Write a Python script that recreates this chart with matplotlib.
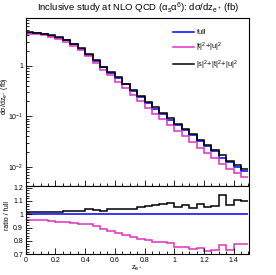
import numpy as np
import matplotlib
matplotlib.use("Agg")
import matplotlib.pyplot as plt
from matplotlib.ticker import MultipleLocator, FuncFormatter, NullFormatter, LogLocator

plt.rcParams['font.family'] = ['Liberation Sans', 'DejaVu Sans']
plt.rcParams['mathtext.fontset'] = 'custom'
plt.rcParams['mathtext.rm'] = 'Liberation Sans'
plt.rcParams['mathtext.it'] = 'Liberation Sans'
plt.rcParams['mathtext.sf'] = 'Liberation Sans'

# bin edges in z_e+
bin_edges = np.round(np.arange(0, 1.5001, 0.05), 3)

# |s|^2+|t|^2+|u|^2 (fb)
sst = [4.58, 4.44, 4.25, 4.00, 3.65, 3.23, 2.73, 2.24, 1.71, 1.28,
       0.957, 0.762, 0.589, 0.442, 0.327, 0.253, 0.195, 0.152, 0.1175, 0.0912,
       0.0708, 0.0562, 0.0437, 0.0344, 0.0274, 0.0215, 0.0170, 0.0132, 0.0107, 0.0089]
# ratios to full
ratio_sst = [1.018, 1.018, 1.018, 1.018, 1.015, 1.022, 1.022, 1.027, 1.037, 1.032,
             1.027, 1.040, 1.042, 1.040, 1.042, 1.052, 1.065, 1.070, 1.077, 1.082,
             1.057, 1.067, 1.047, 1.077, 1.057, 1.062, 1.145, 1.067, 1.107, 1.100]
ratio_tu = [0.960, 0.960, 0.955, 0.950, 0.945, 0.940, 0.935, 0.930, 0.928, 0.915,
            0.890, 0.877, 0.857, 0.842, 0.830, 0.818, 0.808, 0.795, 0.790, 0.783,
            0.757, 0.757, 0.742, 0.748, 0.728, 0.733, 0.773, 0.733, 0.778, 0.778]

sst = np.array(sst)
full = sst / np.array(ratio_sst)
tu = full * np.array(ratio_tu)

series_labels = ["full", r"$\mathregular{|t|^2\!+\!|u|^2}$", r"$\mathregular{|s|^2\!+\!|t|^2\!+\!|u|^2}$"]
colors = ["#0000ff", "#e030c0", "#000000"]

W, H = 276, 275
fig = plt.figure(figsize=(W / 100, H / 100), dpi=100)

def box(l, t, r, b):
    return [l / W, 1 - b / H, (r - l) / W, (b - t) / H]

ax = fig.add_axes(box(25.8, 18, 248.5, 185.5))
axr = fig.add_axes(box(25.8, 186, 248.5, 254.3))

lw = 1.1
for vals, c, lab in [(full, colors[0], series_labels[0]), (tu, colors[1], series_labels[1]), (sst, colors[2], series_labels[2])]:
    ax.stairs(vals, bin_edges, color=c, lw=lw, label=lab, baseline=None)

ax.set_yscale('log')
ax.set_ylim(0.00425, 8.8)
ax.set_xlim(0, 1.5)

ones = np.ones(len(full))
axr.stairs(ones, bin_edges, color=colors[0], lw=lw, baseline=None)
axr.stairs(np.array(ratio_tu), bin_edges, color=colors[1], lw=lw, baseline=None)
axr.stairs(np.array(ratio_sst), bin_edges, color=colors[2], lw=lw, baseline=None)
axr.set_xlim(0, 1.5)
axr.set_ylim(0.7, 1.212)

fs = 5.0
for a in (ax, axr):
    a.xaxis.set_major_locator(MultipleLocator(0.2))
    a.xaxis.set_minor_locator(MultipleLocator(0.05))
    a.tick_params(which='both', direction='in', top=False, right=False, labelsize=fs, width=0.6, pad=2)
    a.tick_params(which='major', length=4)
    a.tick_params(which='minor', length=2)
    for s in a.spines.values():
        s.set_linewidth(0.8)

ax.xaxis.set_major_formatter(NullFormatter())
ax.yaxis.set_major_locator(LogLocator(base=10, numticks=10))
ax.yaxis.set_minor_locator(LogLocator(base=10, subs=np.arange(2, 10), numticks=10))
ax.yaxis.set_minor_formatter(NullFormatter())
def logfmt(v, p):
    e = int(round(np.log10(v)))
    if e == 0:
        return "1"
    return r"$\mathregular{10^{%d}}$" % e
ax.yaxis.set_major_formatter(FuncFormatter(logfmt))

axr.yaxis.set_major_locator(MultipleLocator(0.1))
axr.yaxis.set_minor_locator(MultipleLocator(0.02))
axr.yaxis.set_major_formatter(FuncFormatter(lambda v, p: ("%g" % round(v, 2))))
axr.xaxis.set_major_formatter(FuncFormatter(lambda v, p: ("%g" % round(v, 2))))

fig.text(0.5, 1 - 8.5 / H, r"Inclusive study at NLO QCD ($\mathregular{\alpha_s\alpha^6}$): d$\mathregular{\sigma}$/dz$_{\mathregular{e^+}}$ (fb)",
         ha='center', va='center', fontsize=6.8)
fig.text(5.0 / W, 1 - 96 / H, r"d$\mathregular{\sigma}$/dz$_{\mathregular{e^+}}$ (fb)", rotation=90, ha='center', va='center', fontsize=fs)
fig.text(7.5 / W, 1 - 216 / H, "ratio / full", rotation=90, ha='center', va='center', fontsize=fs)
fig.text(137 / W, 1 - 268 / H, r"z$_{\mathregular{e^+}}$", ha='center', va='center', fontsize=5.5)

leg = ax.legend(loc='upper left', bbox_to_anchor=((170 - 25.8) / (248.5 - 25.8), 1 - (26 - 18) / (185.5 - 18)),
                frameon=False, fontsize=5.3, handlelength=2.8, handletextpad=0.4, labelspacing=0.6, borderaxespad=0)

fig.savefig("out.png", dpi=100)
